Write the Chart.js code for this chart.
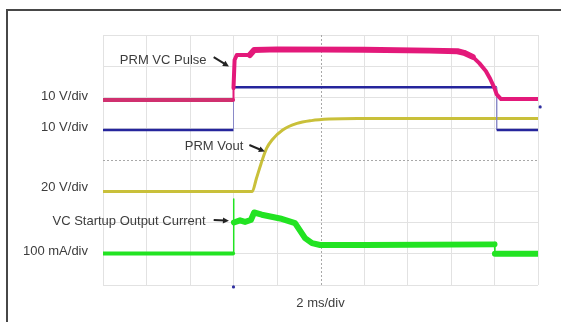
<!DOCTYPE html>
<html>
<head>
<meta charset="utf-8">
<script src="https://cdn.jsdelivr.net/npm/chart.js@4"></script>
<style>
  html, body { margin: 0; padding: 0; background: #fff; }
  #wrap { position: relative; width: 561px; height: 322px; overflow: hidden; }
  #frame { position: absolute; left: 6px; top: 9px; width: 620px; height: 400px;
           border-top: 2px solid #474747; border-left: 2px solid #474747; }
  #scope { position: absolute; left: 0; top: 0; }
</style>
</head>
<body>
<div id="wrap">
  <div id="frame"></div>
  <canvas id="scope" width="561" height="322"></canvas>
</div>
<script>
// time in ms (2 ms/div), level in screen divisions
const pulseTime = [0, 5.98, 6.0, 6.05, 6.15, 6.75, 6.95, 8, 12, 15, 16.3, 16.6, 17.0, 17.3, 17.6, 17.8, 18.0, 18.1, 18.3, 20]
const pulseDiv = [5.92, 5.92, 6.3, 7.2, 7.36, 7.36, 7.52, 7.54, 7.53, 7.5, 7.48, 7.43, 7.3, 7.1, 6.85, 6.6, 6.3, 6.1, 5.95, 5.95]

const biasTime = [0, 6.0, 6.0, 18.1, 18.1, 20]
const biasDiv = [4.96, 4.96, 6.33, 6.33, 4.96, 4.96]

const voutTime = [0, 6.86, 7.05, 7.27, 7.52, 7.77, 8.26, 8.92, 9.58, 10.4, 11.7, 20]
const voutDiv = [2.99, 2.99, 3.4, 3.89, 4.37, 4.64, 4.96, 5.17, 5.26, 5.31, 5.33, 5.33]

const currentTime = [0, 5.98, 6.0, 6.02, 6.3, 6.53, 6.8, 6.95, 7.3, 8.14, 8.83, 9.29, 9.61, 9.98, 12, 18.0, 18.02, 20]
const currentDiv = [1.01, 1.01, 2.75, 2.0, 2.07, 2.02, 2.08, 2.32, 2.25, 2.13, 1.98, 1.5, 1.34, 1.28, 1.28, 1.3, 1.0, 1.0]

const markerTime = [6.0, 20.1]
const markerDiv = [-0.06, 5.7]

const channelLabels = ['10 V/div', '10 V/div', '20 V/div', '100 mA/div']
const channelLevels = [6.03, 5.03, 3.11, 1.07]

const timebaseLabel = '2 ms/div'

const notes = [
    { text: 'PRM VC Pulse', x: 4.76, y: 7.18, from: [5.09, 7.29], to: [5.79, 6.99] },
    { text: 'PRM Vout', x: 6.45, y: 4.43, from: [6.73, 4.48], to: [7.44, 4.27] },
    { text: 'VC Startup Output Current', x: 4.72, y: 2.03, from: [5.09, 2.08], to: [5.79, 2.06] }
]

const pts = (xs, ys) => xs.map((x, i) => ({ x: x, y: ys[i] }))
const steep = c => Math.abs(c.p1.parsed.x - c.p0.parsed.x) < 0.035

const textColor = '#3d3d3d'
const font = '13px "Liberation Sans", Arial, sans-serif'

const scopeText = {
    id: 'scopeText',
    beforeDatasetsDraw(chart) {
        const { ctx, chartArea: a, scales: { x, y } } = chart
        ctx.save()
        ctx.strokeStyle = '#a8a8a8'
        ctx.lineWidth = 1
        ctx.setLineDash([2, 2])
        const cx = Math.round(x.getPixelForValue(10)) + 0.5
        const cy = Math.round(y.getPixelForValue(4)) + 0.5
        ctx.beginPath()
        ctx.moveTo(cx, a.top); ctx.lineTo(cx, a.bottom)
        ctx.moveTo(a.left, cy); ctx.lineTo(a.right, cy)
        ctx.stroke()
        ctx.restore()
    },
    afterDraw(chart) {
        const { ctx, chartArea: a, scales: { x, y } } = chart
        ctx.save()
        ctx.font = font
        ctx.fillStyle = textColor
        ctx.textBaseline = 'middle'

        ctx.textAlign = 'right'
        channelLabels.forEach((t, i) => {
            ctx.fillText(t, a.left - 15, y.getPixelForValue(channelLevels[i]))
        })

        notes.forEach(n => {
            ctx.textAlign = 'right'
            ctx.fillText(n.text, x.getPixelForValue(n.x), y.getPixelForValue(n.y))
            const x0 = x.getPixelForValue(n.from[0]), y0 = y.getPixelForValue(n.from[1])
            const x1 = x.getPixelForValue(n.to[0]), y1 = y.getPixelForValue(n.to[1])
            const ang = Math.atan2(y1 - y0, x1 - x0)
            ctx.strokeStyle = '#222'
            ctx.lineWidth = 2
            ctx.beginPath()
            ctx.moveTo(x0, y0)
            ctx.lineTo(x1 - 4 * Math.cos(ang), y1 - 4 * Math.sin(ang))
            ctx.stroke()
            ctx.fillStyle = '#222'
            ctx.beginPath()
            ctx.moveTo(x1, y1)
            ctx.lineTo(x1 - 6 * Math.cos(ang) + 3 * Math.sin(ang), y1 - 6 * Math.sin(ang) - 3 * Math.cos(ang))
            ctx.lineTo(x1 - 6 * Math.cos(ang) - 3 * Math.sin(ang), y1 - 6 * Math.sin(ang) + 3 * Math.cos(ang))
            ctx.closePath()
            ctx.fill()
            ctx.fillStyle = textColor
        })

        ctx.textAlign = 'center'
        ctx.fillText(timebaseLabel, x.getPixelForValue(10), a.bottom + 18)
        ctx.restore()
    }
}

const gridColor = c => (c.tick && ((c.scale.axis === 'x' && c.tick.value === 10) || (c.scale.axis === 'y' && c.tick.value === 4))) ? 'rgba(0,0,0,0)' : '#e2e2e2'

new Chart(document.getElementById('scope').getContext('2d'), {
    type: 'line',
    data: {
        datasets: [
            {
                data: pts(pulseTime, pulseDiv),
                borderColor: '#e3197a',
                borderWidth: 4,
                borderCapStyle: 'round',
                segment: {
                    borderWidth: c => steep(c) ? 2 : (c.p0.parsed.y > 7.4 || c.p1.parsed.y > 7.4 ? 6 : 4),
                    borderColor: c => (c.p0.parsed.y < 6 && c.p1.parsed.y < 6 && c.p0.parsed.x < 10) ? '#d0306f' : '#e3197a'
                }
            },
            {
                data: pts(biasTime, biasDiv),
                borderColor: '#25259c',
                borderWidth: 2.5,
                segment: { borderWidth: c => steep(c) ? 1 : 2.5, borderColor: c => steep(c) ? '#8a8ac8' : '#25259c' }
            },
            {
                data: pts(voutTime, voutDiv),
                borderColor: '#c9c03a',
                borderWidth: 3,
                cubicInterpolationMode: 'monotone'
            },
            {
                data: pts(currentTime, currentDiv),
                borderColor: '#22e322',
                borderWidth: 6,
                borderCapStyle: 'round',
                segment: { borderWidth: c => steep(c) ? 1.5 : (c.p1.parsed.x < 6 ? 4 : 6) }
            },
            {
                type: 'scatter',
                data: pts(markerTime, markerDiv),
                pointRadius: 1.6,
                pointBackgroundColor: '#3030a0',
                pointBorderWidth: 0,
                clip: false
            }
        ]
    },
    options: {
        responsive: false,
        animation: false,
        events: [],
        layout: { padding: { left: 103, right: 23, top: 35, bottom: 37 } },
        plugins: { legend: { display: false }, tooltip: { enabled: false } },
        elements: { point: { radius: 0 }, line: { borderJoinStyle: 'round', tension: 0 } },
        scales: {
            x: {
                type: 'linear', min: 0, max: 20,
                ticks: { display: false, stepSize: 2 },
                grid: { color: gridColor, drawTicks: false, lineWidth: 1 },
                border: { display: false }
            },
            y: {
                type: 'linear', min: 0, max: 8,
                ticks: { display: false, stepSize: 1 },
                grid: { color: gridColor, drawTicks: false, lineWidth: 1 },
                border: { display: false }
            }
        }
    },
    plugins: [scopeText]
})
</script>
</body>
</html>
